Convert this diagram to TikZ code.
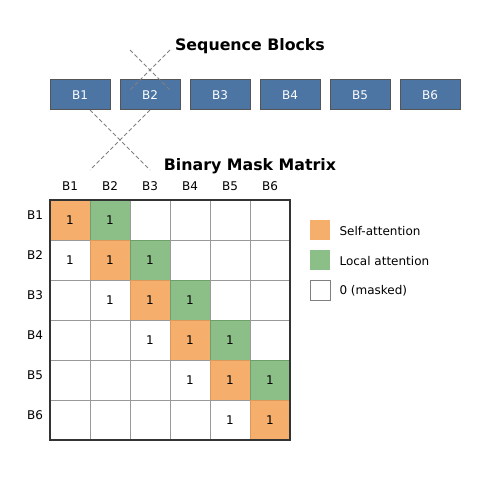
\documentclass[tikz,border=0pt]{standalone}
\usepackage{fontspec}
\setmainfont{DejaVu Sans}
\definecolor{blk}{HTML}{4C75A3}
\definecolor{blkedge}{HTML}{555555}
\definecolor{selfc}{HTML}{F5AE6B}
\definecolor{selfe}{HTML}{D99A5C}
\definecolor{locc}{HTML}{8CBF87}
\definecolor{loce}{HTML}{6FA06B}
\definecolor{gridc}{HTML}{999999}
\begin{document}
\begin{tikzpicture}[x=1pt,y=-1pt,
  block/.style={draw=blkedge,line width=1pt,fill=blk,minimum width=60pt,minimum height=30pt,inner sep=0pt,text=white,font=\fontsize{12}{14}\selectfont},
  title/.style={font=\bfseries\fontsize{15.8}{18}\selectfont},
  lbl/.style={font=\fontsize{12}{14}\selectfont},
  cell/.style={draw=gridc,line width=1pt,minimum size=40pt,inner sep=0pt,font=\fontsize{12}{14}\selectfont},
  selfcell/.style={cell,fill=selfc,draw=selfe},
  loccell/.style={cell,fill=locc,draw=loce},
  leg/.style={minimum size=20pt,inner sep=0pt,line width=1pt},
  dashline/.style={draw=gray,line width=1pt,dash pattern=on 4pt off 2.5pt}]
\useasboundingbox (0,0) rectangle (500,500);
% titles
\node[title] (t1) at (250,46.5) {Sequence Blocks};
\node[title] (t2) at (250,166.5) {Binary Mask Matrix};
% dashed crosses
\coordinate (a1) at (130,50); \coordinate (a2) at (170,90);
\coordinate (a3) at (170,50); \coordinate (a4) at (130,90);
\coordinate (b1) at (90,110); \coordinate (b2) at (150,170);
\coordinate (b3) at (150,110); \coordinate (b4) at (90,170);
% blocks
\foreach \i in {1,...,6}{
  \node[block] (blk\i) at ({80+70*(\i-1)},95) {B\i};
}
\draw[dashline] (a1) -- (a2);
\draw[dashline] (a3) -- (a4);
\draw[dashline] (b1) -- (b2);
\draw[dashline] (b3) -- (b4);
% matrix cells
\foreach \r in {1,...,6}{
  \foreach \c in {1,...,6}{
    \pgfmathtruncatemacro{\d}{\c-\r}
    \ifnum\d=0
      \node[selfcell] (c\r\c) at ({70+40*(\c-1)},{220+40*(\r-1)}) {1};
    \else\ifnum\d=1
      \node[loccell] (c\r\c) at ({70+40*(\c-1)},{220+40*(\r-1)}) {1};
    \else\ifnum\d=-1
      \node[cell] (c\r\c) at ({70+40*(\c-1)},{220+40*(\r-1)}) {1};
    \else
      \node[cell] (c\r\c) at ({70+40*(\c-1)},{220+40*(\r-1)}) {};
    \fi\fi\fi
  }
}
\node[draw=black!80,line width=1.5pt,minimum size=240pt,inner sep=0pt] (frame) at (170,320) {};
% labels
\foreach \i in {1,...,6}{
  \node[lbl] (col\i) at ({70+40*(\i-1)},186.5) {B\i};
  \node[lbl] (row\i) at (35,{215.5+40*(\i-1)}) {B\i};
}
% legend
\node[leg,fill=selfc] (l1) at (320,230) {};
\node[lbl,anchor=west] (lt1) at (336,231) {Self-attention};
\node[leg,fill=locc] (l2) at (320,260) {};
\node[lbl,anchor=west] (lt2) at (336,261) {Local attention};
\node[leg,draw=gray,fill=white] (l3) at (320,290) {};
\node[lbl,anchor=west] (lt3) at (336,291) {0 (masked)};
\end{tikzpicture}
\end{document}
